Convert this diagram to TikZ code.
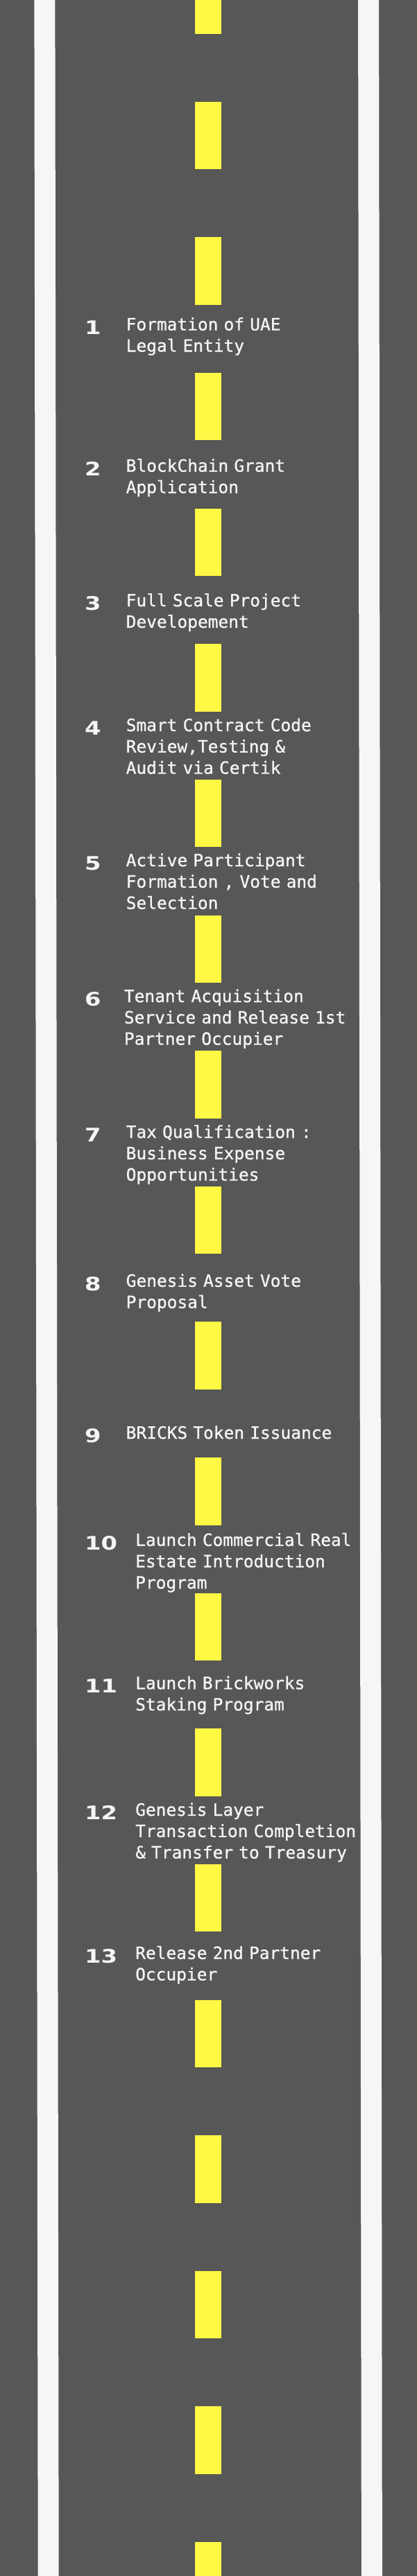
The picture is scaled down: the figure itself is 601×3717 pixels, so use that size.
\documentclass[tikz,border=0pt]{standalone}
\usepackage{fontspec}
\newfontfamily\stepfont{DejaVu Sans Mono}[FakeBold=0.8]
\newfontfamily\numfont{DejaVu Sans}
\definecolor{asphalt}{HTML}{575757}
\definecolor{lanewhite}{HTML}{F6F6F6}
\definecolor{laneyellow}{HTML}{FFF845}
\definecolor{chalk}{HTML}{F5F5F5}
\newcommand{\widenum}[1]{\scalebox{1.25}[1]{#1}}
\tikzstyle{stepnum} = [anchor=base west, inner sep=0pt, text=chalk,
    font=\numfont\bfseries\fontsize{27}{27}\selectfont]
\tikzstyle{steptext} = [anchor=base west, inner sep=0pt, text=chalk,
    text width=350pt, align=left, font=\stepfont\fontsize{24.5}{30.8}\selectfont]
\tikzstyle{edgeline} = [lanewhite, line width=30pt]
\tikzstyle{centreline} = [laneyellow, line width=37.6pt,
    dash pattern=on 97.5pt off 98.13pt]

\begin{document}
\begin{tikzpicture}[x=1pt,y=-1pt]
        \useasboundingbox (0,0) rectangle (601,3717);
        \clip (0,0) rectangle (601,3717);
        % road surface and markings
        \fill [asphalt] (0,0) rectangle (601,3717);
        \draw [edgeline] (64.4,0) -- (69.7,3717);
        \draw [edgeline] (531.1,0) -- (535.9,3717);
        \draw [centreline] (299.9,-48.9) -- (299.9,3760);

        \node (num1) [stepnum] at (122,482.3) {\widenum{1}};
        \node (step1) [steptext] at (181.5,476.7)
            {Formation of UAE\\Legal Entity};
        \node (num2) [stepnum] at (122,686.3) {\widenum{2}};
        \node (step2) [steptext] at (181.5,680.7)
            {BlockChain Grant\\Application};
        \node (num3) [stepnum] at (122,880.6) {\widenum{3}};
        \node (step3) [steptext] at (181.5,875)
            {Full Scale Project\\Developement};
        \node (num4) [stepnum] at (122,1060.6) {\widenum{4}};
        \node (step4) [steptext] at (181.5,1055)
            {Smart Contract Code\\Review,Testing \&\\Audit via Certik};
        \node (num5) [stepnum] at (122,1255.6) {\widenum{5}};
        \node (step5) [steptext] at (181.5,1250)
            {Active Participant\\Formation , Vote and\\Selection};
        \node (num6) [stepnum] at (122,1451.6) {\widenum{6}};
        \node (step6) [steptext] at (178.7,1446)
            {Tenant Acquisition\\Service and Release 1st\\Partner Occupier};
        \node (num7) [stepnum] at (122,1647.6) {\widenum{7}};
        \node (step7) [steptext] at (181.5,1642)
            {Tax Qualification :\\Business Expense\\Opportunities};
        \node (num8) [stepnum] at (122,1862.3) {\widenum{8}};
        \node (step8) [steptext] at (181.5,1856.7)
            {Genesis Asset Vote\\Proposal};
        \node (num9) [stepnum] at (122,2081.6) {\widenum{9}};
        \node (step9) [steptext] at (181.5,2076)
            {BRICKS Token Issuance};
        \node (num10) [stepnum] at (122,2236.3) {\widenum{10}};
        \node (step10) [steptext] at (195,2230.7)
            {Launch Commercial Real\\Estate Introduction\\Program};
        \node (num11) [stepnum] at (122,2442.9) {\widenum{11}};
        \node (step11) [steptext] at (195,2437.3)
            {Launch Brickworks\\Staking Program};
        \node (num12) [stepnum] at (122,2625.6) {\widenum{12}};
        \node (step12) [steptext] at (195,2620)
            {Genesis Layer\\Transaction Completion\\\& Transfer to Treasury};
        \node (num13) [stepnum] at (122,2832.3) {\widenum{13}};
        \node (step13) [steptext] at (195,2826.7)
            {Release 2nd Partner\\Occupier};
    \end{tikzpicture}
\end{document}
